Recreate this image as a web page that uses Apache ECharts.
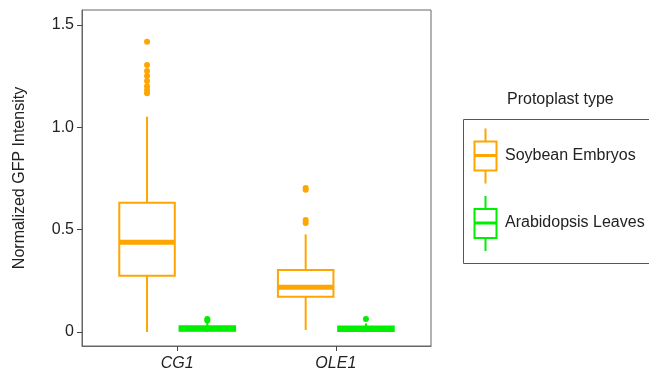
<!DOCTYPE html>
<html>
<head>
<meta charset="utf-8">
<script src="https://cdn.jsdelivr.net/npm/echarts@6/dist/echarts.min.js"></script>
<style>
  html, body { margin: 0; padding: 0; background: #fff; }
  #main { width: 649px; height: 379px; }
</style>
</head>
<body>
<div id="main"></div>
<script>
// categories and groups
var categories = ['CG1', 'OLE1'];
var types = ['Soybean Embryos', 'Arabidopsis Leaves'];
var colors = ['#FFA500', '#00EE00'];
var yTicks = [0, 0.5, 1.0, 1.5];

// box stats per category: [whiskerLow, Q1, median, Q3, whiskerHigh]
var soybeanBox = [
    [0.0, 0.275, 0.438, 0.632, 1.052],
    [0.01, 0.172, 0.218, 0.303, 0.477]
];
var arabidopsisBox = [
    [0.0, 0.006, 0.016, 0.028, 0.045],
    [0.0, 0.005, 0.015, 0.027, 0.042]
];

// outliers: [categoryIndex, value]
var soybeanOutliers = [
    [0, 1.418], [0, 1.304], [0, 1.275], [0, 1.25], [0, 1.226], [0, 1.2], [0, 1.182], [0, 1.166],
    [1, 0.703], [1, 0.695], [1, 0.547], [1, 0.532]
];
var arabidopsisOutliers = [
    [0, 0.056], [0, 0.064],
    [1, 0.063]
];

var myChart = echarts.init(document.getElementById('main'));
var font = 'Liberation Sans, Arial, sans-serif';
var dodge = 0.19;
var boxW = 0.35;

function boxData(stats, off) {
    return stats.map(function (s, i) {
        return [i + 1 + off].concat(s);
    });
}
function outlierData(pts, off) {
    return pts.map(function (p) { return [p[0] + 1 + off, p[1]]; });
}

function makeRender(color) {
    return function (params, api) {
        var x = api.value(0);
        var lo = api.coord([x, api.value(1)]);
        var q1 = api.coord([x, api.value(2)]);
        var md = api.coord([x, api.value(3)]);
        var q3 = api.coord([x, api.value(4)]);
        var hi = api.coord([x, api.value(5)]);
        var left = api.coord([x - boxW / 2, 0])[0];
        var right = api.coord([x + boxW / 2, 0])[0];
        var st = { stroke: color, lineWidth: 2, fill: null };
        return {
            type: 'group',
            children: [
                { type: 'line', shape: { x1: lo[0], y1: lo[1], x2: q1[0], y2: q1[1] }, style: st },
                { type: 'line', shape: { x1: q3[0], y1: q3[1], x2: hi[0], y2: hi[1] }, style: st },
                { type: 'rect', shape: { x: left, y: q3[1], width: right - left, height: q1[1] - q3[1] },
                  style: { stroke: color, lineWidth: 2, fill: '#fff' } },
                { type: 'line', shape: { x1: left, y1: md[1], x2: right, y2: md[1] },
                  style: { stroke: color, lineWidth: 5 } }
            ]
        };
    };
}

// legend key glyph
function keyGlyph(cx, cy, color) {
    return {
        type: 'group',
        children: [
            { type: 'line', shape: { x1: cx, y1: cy - 27, x2: cx, y2: cy - 14 }, style: { stroke: color, lineWidth: 2 } },
            { type: 'rect', shape: { x: cx - 11, y: cy - 14, width: 22, height: 29 }, style: { stroke: color, lineWidth: 2, fill: '#fff' } },
            { type: 'line', shape: { x1: cx - 11, y1: cy, x2: cx + 11, y2: cy }, style: { stroke: color, lineWidth: 3 } },
            { type: 'line', shape: { x1: cx, y1: cy + 15, x2: cx, y2: cy + 28 }, style: { stroke: color, lineWidth: 2 } }
        ]
    };
}

var option = {
    animation: false,
    grid: {
        left: 82, right: 218, top: 10, bottom: 33,
        show: true, borderColor: '#666', borderWidth: 1
    },
    xAxis: {
        type: 'value',
        min: 0.4, max: 2.6,
        splitLine: { show: false },
        axisLine: { show: true, onZero: false, lineStyle: { color: '#666' } },
        axisTick: { show: true, length: 5, lineStyle: { color: '#444' }, customValues: [1, 2] },
        axisLabel: {
            customValues: [1, 2],
            margin: 10,
            fontFamily: font, fontSize: 16, fontStyle: 'italic', color: '#222',
            formatter: function (v) { return categories[Math.round(v) - 1] || ''; }
        }
    },
    yAxis: {
        type: 'value',
        min: -0.0684, max: 1.573,
        name: 'Normalized GFP Intensity',
        nameLocation: 'middle',
        nameGap: 54,
        nameTextStyle: { fontFamily: font, fontSize: 16, color: '#222' },
        splitLine: { show: false },
        axisLine: { show: true, onZero: false, lineStyle: { color: '#666' } },
        axisTick: { show: true, length: 5, lineStyle: { color: '#444' }, customValues: yTicks },
        axisLabel: {
            customValues: yTicks,
            margin: 8,
            fontFamily: font, fontSize: 16, color: '#222',
            formatter: function (v) { return v === 0 ? '0' : v.toFixed(1); }
        }
    },
    series: [
        { name: types[0], type: 'custom', renderItem: makeRender(colors[0]), data: boxData(soybeanBox, -dodge), z: 2 },
        { name: types[1], type: 'custom', renderItem: makeRender(colors[1]), data: boxData(arabidopsisBox, dodge), z: 2 },
        { name: types[0], type: 'scatter', symbolSize: 6, itemStyle: { color: colors[0], opacity: 1 },
          data: outlierData(soybeanOutliers, -dodge), z: 3 },
        { name: types[1], type: 'scatter', symbolSize: 6, itemStyle: { color: colors[1], opacity: 1 },
          data: outlierData(arabidopsisOutliers, dodge), z: 3 }
    ],
    graphic: [
        { type: 'text', left: 507, top: 92, style: { text: 'Protoplast type', font: '16px ' + font, fill: '#222' } },
        { type: 'rect', shape: { x: 463.5, y: 119.5, width: 190, height: 144 }, style: { stroke: '#555', lineWidth: 1, fill: null } },
        keyGlyph(485.5, 155.5, colors[0]),
        keyGlyph(485.5, 223, colors[1]),
        { type: 'text', x: 505, y: 155.5, style: { text: types[0], font: '16px ' + font, fill: '#222', verticalAlign: 'middle' } },
        { type: 'text', x: 505, y: 223, style: { text: types[1], font: '16px ' + font, fill: '#222', verticalAlign: 'middle' } }
    ]
};

myChart.setOption(option);
</script>
</body>
</html>
